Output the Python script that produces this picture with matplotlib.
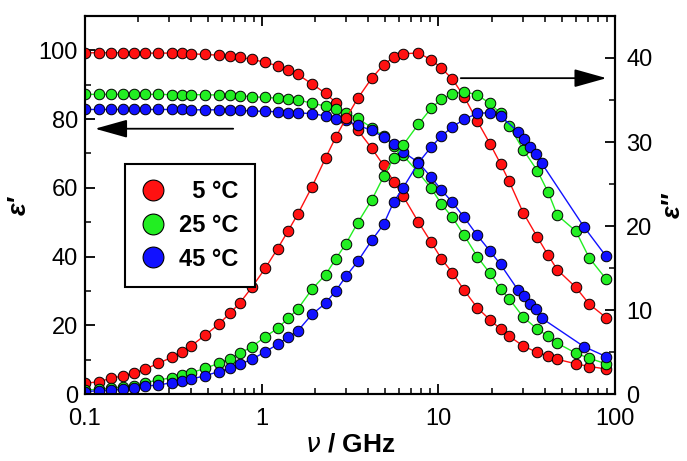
import numpy as np
import matplotlib
matplotlib.use("Agg")
import matplotlib.pyplot as plt
from matplotlib.ticker import FixedLocator, MultipleLocator, LogLocator, NullFormatter
from matplotlib.lines import Line2D

plt.rcParams['font.family'] = ['Liberation Sans', 'DejaVu Sans']

# frequencies (GHz) shared by 5 and 25 degC
freq = [0.1, 0.12, 0.14, 0.165, 0.19, 0.22, 0.26, 0.31, 0.355, 0.4,
        0.48, 0.57, 0.66, 0.75, 0.88, 1.05, 1.23, 1.41, 1.6,
        1.93, 2.3, 2.63, 3.0, 3.5,
        4.2, 4.9, 5.6, 6.3, 7.7, 9.1, 10.4, 12, 14,
        16.6, 19.6, 22.5, 25.2, 30.2, 36.3, 41.9, 47.1, 60, 71.5, 89]
# frequencies for 45 degC
freq_45 = [0.1, 0.12, 0.14, 0.165, 0.19, 0.22, 0.26, 0.31, 0.355, 0.4,
           0.48, 0.57, 0.66, 0.75, 0.88, 1.05, 1.23, 1.41, 1.6,
           1.93, 2.3, 2.63, 3.0, 3.5,
           4.2, 4.9, 5.6, 6.3, 7.7, 9.1, 10.4, 12, 14,
           16.6, 19.6, 22.5, 28.3, 30.5, 33, 35.6, 38.4, 66.7, 89]

eps1_5 = [99.3, 99.3, 99.3, 99.3, 99.3, 99.2, 99.2, 99.2, 99.1, 99.0,
          98.8, 98.6, 98.3, 98.0, 97.4, 96.5, 95.5, 94.3, 93.0,
          90.2, 87.5, 84.8, 80.7, 76.8,
          71.5, 66.5, 61.8, 57.7, 50.1, 44.2, 39.4, 35.3, 30.2,
          25.1, 21.6, 18.9, 16.8, 14.0, 12.1, 11.1, 10.1, 8.8, 8.0, 7.3]
eps2_5 = [1.27, 1.47, 1.87, 2.18, 2.54, 2.98, 3.65, 4.37, 5.04, 5.75,
          7.02, 8.29, 9.6, 10.8, 12.7, 15.0, 17.3, 19.4, 21.4,
          24.7, 28.1, 30.6, 32.8, 35.2,
          37.6, 39.2, 40.1, 40.5, 40.6, 39.8, 38.8, 37.5, 35.4,
          32.5, 29.8, 27.4, 25.3, 21.6, 18.7, 16.5, 14.8, 12.7, 10.7, 9.1]

eps1_25 = [87.2, 87.2, 87.2, 87.2, 87.2, 87.2, 87.2, 87.1, 87.1, 87.1,
           87.1, 87.0, 86.9, 86.8, 86.5, 86.3, 86.1, 85.9, 85.6,
           84.6, 83.8, 82.8, 81.9, 80.2,
           77.5, 75.0, 72.1, 69.5, 64.5, 59.9, 55.3, 51.4, 46.2,
           40.0, 35.1, 30.6, 27.7, 22.4, 18.9, 16.8, 14.8, 11.9, 10.4, 8.8]
eps2_25 = [0.48, 0.56, 0.68, 0.87, 0.95, 1.35, 1.67, 1.94, 2.26, 2.54,
           3.06, 3.65, 4.2, 4.84, 5.63, 6.82, 7.82, 9.0, 10.1,
           12.5, 14.2, 16.1, 17.9, 20.4,
           23.1, 25.9, 28.1, 29.6, 32.1, 34.0, 35.1, 35.7, 36.0,
           35.6, 34.6, 33.4, 31.9, 29.1, 26.6, 24.0, 21.3, 19.4, 16.2, 13.7]

eps1_45 = [82.8, 82.8, 82.8, 82.8, 82.8, 82.8, 82.8, 82.8, 82.8, 82.7,
           82.7, 82.7, 82.6, 82.6, 82.3, 82.3, 82.1, 81.9, 81.8,
           81.6, 80.9, 80.1, 79.6, 78.2,
           76.7, 74.8, 72.8, 70.5, 67.4, 63.1, 59.4, 55.8, 51.4,
           46.2, 41.6, 37.7, 30.2, 28.5, 26.3, 24.6, 22.1, 13.8, 10.9]
eps2_45 = [0.28, 0.40, 0.42, 0.60, 0.67, 0.95, 1.07, 1.35, 1.55, 1.79,
           2.18, 2.66, 3.06, 3.53, 4.13, 5.04, 5.91, 6.75, 7.5,
           9.5, 10.8, 12.3, 14.0, 15.8,
           18.3, 20.2, 22.9, 24.5, 27.5, 29.4, 30.7, 31.8, 32.7,
           33.4, 33.5, 33.1, 31.2, 30.4, 29.4, 28.6, 27.5, 19.9, 16.4]

labels = ["  5 °C", "25 °C", "45 °C"]
colors = ['#ff1111', '#22ee22', '#1111ff']

fig = plt.figure(figsize=(6.87, 4.61), dpi=100)
ax1 = fig.add_axes([0.1237, 0.1453, 0.7715, 0.82])
ax2 = ax1.twinx()

series = [(freq, eps1_5, eps2_5), (freq, eps1_25, eps2_25), (freq_45, eps1_45, eps2_45)]
mk = dict(marker='o', ms=7.6, mec='k', mew=0.7, lw=1.0)
for (f, e1, e2), c in zip(series, colors):
    ax1.plot(f, e1, color=c, mfc=c, **mk)
    ax2.plot(f, e2, color=c, mfc=c, **mk)

ax1.set_xscale('log')
ax1.set_xlim(0.1, 100)
ax1.set_ylim(0, 110)
ax2.set_ylim(0, 45)

ax1.xaxis.set_major_locator(FixedLocator([0.1, 1, 10, 100]))
ax1.set_xticklabels(["0.1", "1", "10", "100"])
ax1.xaxis.set_minor_locator(LogLocator(base=10, subs=np.arange(2, 10)))
ax1.xaxis.set_minor_formatter(NullFormatter())
ax1.yaxis.set_major_locator(MultipleLocator(20))
ax1.yaxis.set_minor_locator(MultipleLocator(10))
ax2.yaxis.set_major_locator(MultipleLocator(10))
ax2.yaxis.set_minor_locator(MultipleLocator(5))

for ax in (ax1, ax2):
    ax.tick_params(which='major', direction='in', length=7, width=1.3, labelsize=17)
    ax.tick_params(which='minor', direction='in', length=4.5, width=1.1)
    for s in ax.spines.values():
        s.set_linewidth(1.5)
ax1.tick_params(axis='x', which='both', top=True)
ax1.tick_params(axis='x', which='major', pad=10)
ax1.tick_params(axis='y', which='major', pad=5)
ax2.tick_params(axis='y', which='major', pad=8)

ax1.set_xlabel(r"$\nu$ / GHz", fontsize=19, fontweight='bold', labelpad=2)
ax1.set_ylabel("ε′", fontsize=19, fontweight='bold', fontstyle='italic', labelpad=6)
ax2.set_ylabel("ε″", fontsize=19, fontweight='bold', fontstyle='italic', labelpad=6)

arrow = dict(arrowstyle='-|>,head_length=1.0,head_width=0.28', mutation_scale=20,
             color='k', lw=1.3, shrinkA=0, shrinkB=0)
ax1.annotate("", xy=(0.114, 77.2), xytext=(0.69, 77.2), arrowprops=arrow)
ax2.annotate("", xy=(89.5, 37.6), xytext=(13.4, 37.6), arrowprops=arrow)

handles = [Line2D([], [], ls='none', marker='o', ms=15, mfc=c, mec='k', mew=0.8) for c in colors]
leg = ax2.legend(handles, labels, loc='upper left', bbox_to_anchor=(0.053, 0.64),
                 frameon=True, fancybox=False, edgecolor='k', framealpha=1,
                 prop=dict(size=17, weight='bold'), handlelength=1.0,
                 handletextpad=0.6, labelspacing=0.45, borderpad=0.7)
leg.get_frame().set_linewidth(1.5)

fig.savefig("out.png", dpi=100)
